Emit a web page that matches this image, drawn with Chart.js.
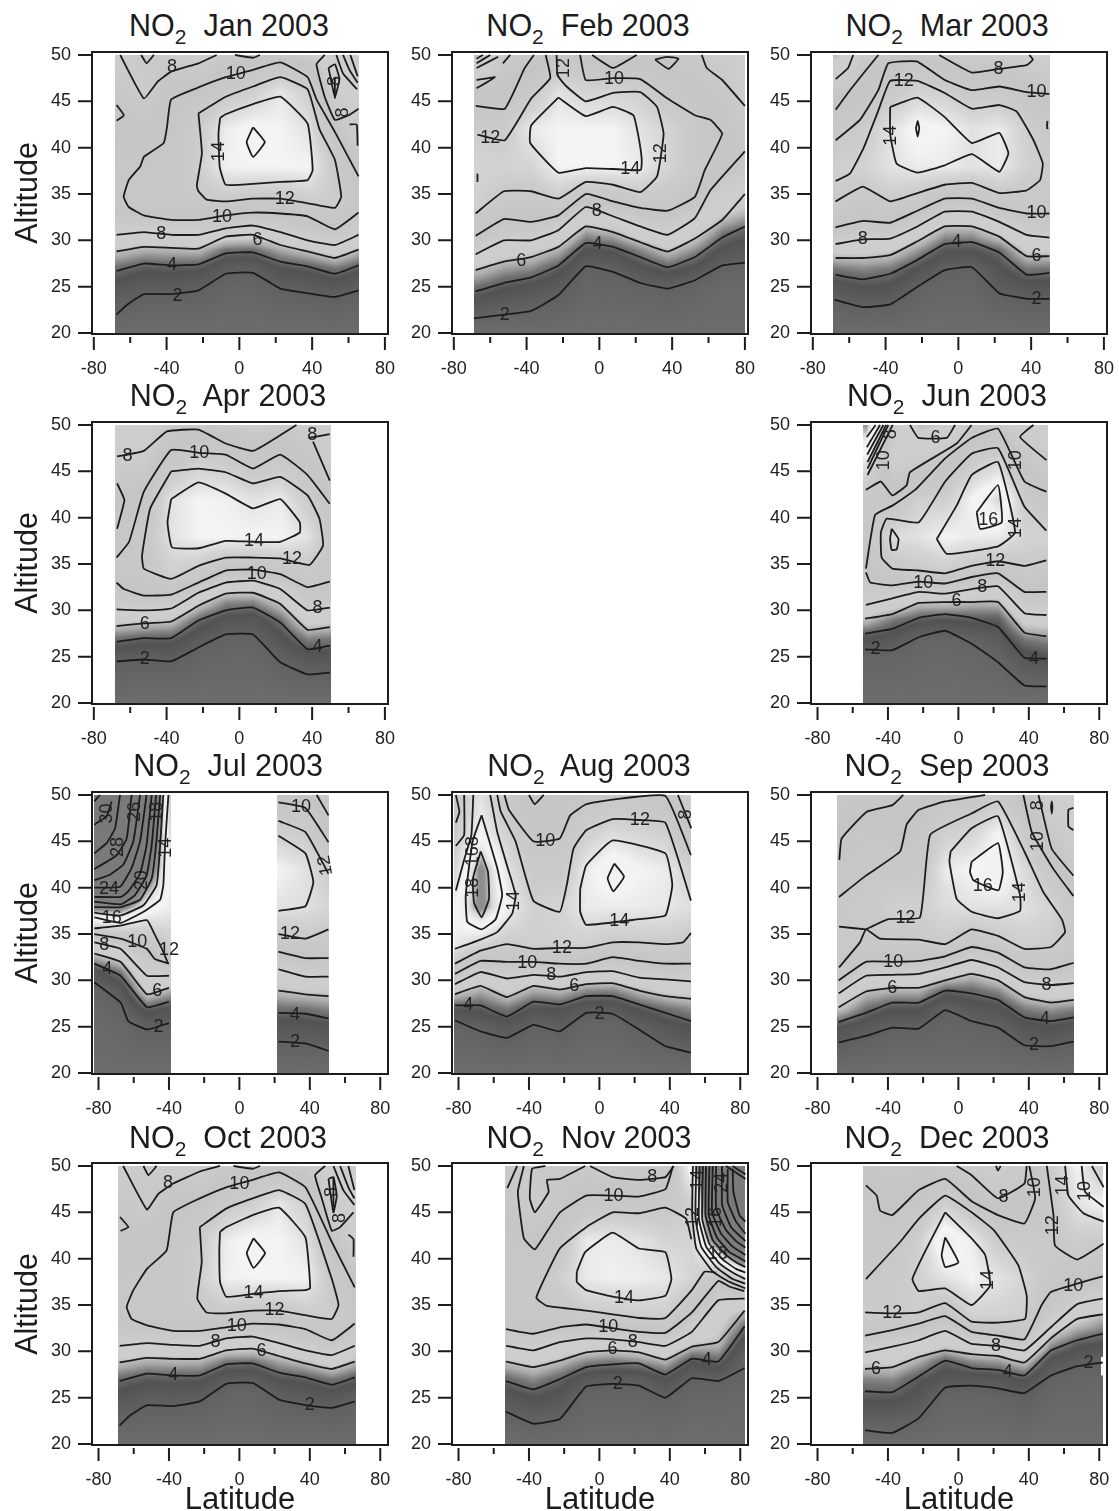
<!DOCTYPE html>
<html>
<head>
<meta charset="utf-8">
<title>NO2 2003</title>
<script src="https://cdn.jsdelivr.net/npm/chart.js@4/dist/chart.umd.js"></script>
<style>
html, body { margin: 0; padding: 0; background: #fff; overflow: hidden; }
body { position: relative; width: 1119px; height: 1511px; font-family: "Liberation Sans", Arial, sans-serif; }
canvas { position: absolute; }
.ptitle { position: absolute; width: 320px; text-align: center; font-size: 30.5px; line-height: 36px; color: #1c1c1c; white-space: pre; }
.ptitle sub { font-size: 21px; line-height: 0; vertical-align: -8px; }
</style>
</head>
<body>
<script>
// altitude rows of every heat grid, and the stops from NO2 value to grey level
var heatAlts = [20, 25, 27, 29, 31, 34, 38, 42, 46, 50];
var greyValues = [0, 2, 3.5, 4.5, 5.5, 6.5, 8, 10, 12, 13, 14, 15, 16, 17, 18, 20, 35];
var greyLevels = [112, 98, 82, 115, 170, 205, 206, 197, 203, 212, 226, 244, 240, 215, 145, 125, 120];

var xTicks = { major: [-80, -40, 0, 40, 80] };

// ---- Jan
var janCols = [-67.5, -52.5, -37.5, -22.5, -7.5, 7.5, 22.5, 37.5, 52.5, 65.5];
var janHeat = [
    [.5, 3, 4.3, 6.2, 8.3, 10.5, 10.5, 10, 9.5, 8],
    [.5, 2.5, 3.7, 5.7, 8.1, 11, 10.5, 10, 8.5, 9],
    [.5, 2.5, 3.8, 5.8, 8.4, 11, 10.7, 10.5, 10.2, 8.5],
    [.5, 2.3, 3.7, 5.9, 8.4, 11, 12.5, 12, 10.3, 8],
    [.5, 1.5, 2.5, 4.4, 8, 11.5, 14.8, 14.6, 11.7, 9],
    [.5, 1.5, 2.4, 4.3, 7.6, 11, 15, 15.5, 12.5, 9.5],
    [.5, 2.2, 3.5, 5.5, 8.2, 11, 15, 15, 14.3, 9.5],
    [.5, 2.5, 3.8, 6.2, 9, 12, 15, 14, 12.5, 9],
    [.5, 2.8, 4.5, 7.2, 9.8, 12.2, 11.6, 10, 8, 7],
    [.5, 2.3, 3.8, 6, 8.3, 10.5, 9.8, 8, 8, 7]
];
var janLines = [
    [-67.5,22, -62,23, -52.5,24.2, -37.5,24.2, -22.5,24.6, -7.5,26.4, 7.5,26.5, 22.5,24.8, 37.5,24.3, 52.5,23.9, 65.5,24.6],
    [-67.5,26.7, -52.5,27.5, -37.5,27.3, -22.5,27.4, -7.5,28.6, 7.5,28.7, 22.5,27.7, 37.5,27.2, 52.5,26.4, 65.5,27.3],
    [-67.5,28.8, -52.5,29.3, -37.5,29.2, -22.5,29.1, -7.5,30.4, 7.5,30.6, 22.5,29.5, 37.5,28.8, 52.5,28.1, 65.5,29],
    [-67.5,30.6, -52.5,30.9, -37.5,30.6, -22.5,30.6, -7.5,31.3, 7.5,31.6, 22.5,30.9, 37.5,30, 52.5,29.5, 65.5,30.6],
    [65.5,33, 52.5,31.2, 37.5,32.6, 22.5,32.9, 7.5,33, -7.5,32.7, -22.5,32.2, -37.5,32.2, -52.5,32.7, -60.8,33.6, -63.6,34.7, -60.8,36.5, -54.4,38, -52.5,39, -41.6,40.5, -39.8,42.2, -37.5,45.2, -22.5,46.5, -7.5,47.6, 7.5,48.4, 22.5,49.2, 37.5,47.6, 42.4,45.2, 52.5,41.7, 65.5,36.9],
    [-22.5,43.7, -7.5,45.5, 7.5,46.6, 22.5,47.6, 37.5,46.3, 44,42, 52.5,38.7, 56,34.7, 52.5,33.5, 37.5,34, 22.5,34.5, 7.5,34.5, -7.5,34.2, -18,34.4, -22.5,35.3, -23.4,35.9, -20.6,39.4, -22.5,43.7],
    [-10.6,43.2, -7.5,43.6, 7.5,44.7, 22.5,45.5, 37.5,42.6, 40.3,37.6, 37.5,36.5, 22.5,36.3, 7.5,36.1, -7.5,36, -10.8,37.9, -11.5,41.5, -10.6,43.2],
    [7.5,42.2, 14,40.6, 7.5,39, 4,40.6, 7.5,42.2],
    [-65.5,50, -52.5,45.3, -45,47.1, -37.5,48.2, -22.5,49.1, -12.5,50],
    [-54,50, -51,49.1, -47,50],
    [-2.4,50, 7.5,49.7, 11.3,50],
    [-67.5,44.6, -63.5,43.5, -67.5,42.9],
    [46.9,50, 42.4,49, 46.9,45.5, 52.5,43, 60,43.5, 65.5,44.2],
    [49,48.6, 52.5,49, 55,47.4, 52.5,45.5, 49,48.6],
    [52.5,47.6, 52.5,45.3],
    [53.3,50, 57,48, 64.7,46.3],
    [57,50, 60.5,48.4, 65,47],
    [61,50, 65,47.7],
    [60.6,42.5, 64.5,42.5, 65,40.2]
];
var janLabels = [["8",-37,48.7],["10",-2,47.9],["14",-11,39.6,-90],["12",25,34.5],["10",-9.5,32.5],["8",-43,30.7],["6",10,30],["4",-37,27.3],["2",-34,24],["8",52.5,47.2,-90],["8",57,43.8,-90]];

// ---- Feb
var febCols = [-67.5, -52.5, -37.5, -22.5, -7.5, 7.5, 22.5, 37.5, 52.5, 67.5, 80];
var febHeat = [
    [.5, 4.4, 6.2, 8.4, 10.5, 12.6, 13, 12, 10, 6],
    [.5, 3.6, 5.3, 7.2, 9, 11.2, 12.8, 12, 10, 9],
    [.5, 3.2, 4.9, 6.7, 9, 11.2, 13, 14.5, 11.5, 9],
    [.5, 2.6, 3.8, 5.7, 8, 11.5, 15, 15, 14, 10.5],
    [.5, 1.5, 2, 3.4, 5.4, 9.5, 15, 15, 13, 10],
    [.5, 1.6, 2.2, 3.7, 6, 10, 15, 15, 13, 9],
    [.5, 1.8, 3.2, 4.9, 7.5, 11, 14.5, 14, 12.5, 9.5],
    [.5, 2.1, 4, 6.2, 8.4, 11, 13, 13, 11, 9.5],
    [.5, 1.6, 3.2, 5, 7, 9.5, 11.5, 11.5, 10, 9],
    [.5, 1, 1.8, 3.2, 4.7, 7.6, 10.3, 10, 9.5, 8.5],
    [.5, 1, 1.7, 2.8, 4, 6.7, 9.5, 9, 8, 8]
];
var febLines = [
    [-69,21.6, -37.5,22.4, -22.5,24.1, -7.5,27.2, 7.5,26.6, 22.5,25.4, 37.5,24.8, 52.5,25.7, 67.5,27.3, 80,27.6],
    [-68,24.5, -52.5,25.4, -37.5,26, -22.5,27.3, -7.5,29.7, 7.5,29.3, 22.5,28.2, 37.5,27.1, 52.5,28.2, 67.5,30.3, 80,31.5],
    [-68,26.8, -52.5,27.7, -37.5,28.2, -22.5,29.3, -7.5,31.5, 7.5,30.9, 22.5,29.8, 37.5,28.8, 52.5,30.2, 67.5,32.2, 80,35],
    [-68,28.5, -52.5,30, -37.5,30, -22.5,31.1, -7.5,33.6, 7.5,32.6, 22.5,31.5, 37.5,30.6, 52.5,32.4, 61,35.4, 80,39.6],
    [-68,30.5, -52.5,32.3, -37.5,32, -22.5,32.7, -7.5,35, 7.5,34.2, 22.5,33.5, 37.5,33.2, 52.5,34.7, 58,37.6, 67.5,41.5, 61,43, 52.5,43.5, 37.5,45.3, 22.5,47.4, 7.5,47.5, -7.5,47.3, -10.6,50],
    [-68,32.9, -52.5,35.3, -37.5,35.3, -22.5,34.5, -7.5,36.3, 7.5,36, 22.5,35.2, 31.7,36.9, 35.3,41.5, 31.7,44.4, 22.5,46, 7.5,45.9, -7.5,45, -18,46.6, -23,47.8, -23.5,50],
    [-67,41.4, -52,40.8, -37.5,45.3, -27,47.5, -29.5,50],
    [-68,44.5, -52,44.2, -41,48.6, -36,50],
    [-22.5,45.4, -37.5,42.4, -38,40.5, -22.5,37.3, -7.5,37.8, 7.5,37.7, 22.7,37.6, 23.3,38.7, 21.5,41.2, 18.7,43.5, 7.5,44.4, -7.5,43.4, -22.5,45.4],
    [-4,50, 7.5,48.6, 20.5,50],
    [30.6,49.5, 37,49.8, 43.5,49.6, 38,48.5, 30.6,49.5],
    [56.3,50, 59,48.6, 67.5,47.3, 80,44.5],
    [-67.5,49.6, -64,50], [-67.5,49.1, -60,50], [-67.5,48.6, -55.6,49.8],
    [-53,49.1, -49,50, -53,49.1],
    [-67.5,47.3, -57.4,47.6, -67.5,46.4],
    [-67,37.2, -67,36.3]
];
var febLabels = [["2",-52,22],["6",-43,27.8],["4",-1,29.6],["8",-1.5,33.2],["14",17,37.7],["12",-60,41],["12",34,39.4,-90],["10",8,47.4],["12",-19.5,48.6,-90]];

// ---- Mar
var marCols = [-67.5, -52.5, -37.5, -22.5, -7.5, 7.5, 22.5, 37.5, 50];
var marHeat = [
    [.5, 3, 4.6, 6.8, 9.6, 11.8, 12.5, 11, 9.5, 6],
    [.5, 3.5, 4.9, 6.9, 9, 11, 12.8, 12, 10, 9],
    [.5, 3.3, 4.6, 6.6, 8.9, 11.8, 14, 14, 11.5, 9.5],
    [.5, 2, 3.4, 5.2, 7.5, 11, 14.5, 15.5, 13, 10],
    [.5, 1.5, 2.2, 3.6, 5.5, 9.5, 14.5, 15, 12.5, 9],
    [.5, 1.5, 2, 3.6, 5.5, 9.5, 14, 14, 11.5, 8.5],
    [.5, 2.5, 3.3, 4.3, 7, 10.7, 14.5, 14.5, 11.5, 8.5],
    [.5, 3, 4.6, 6.6, 8.6, 11, 12.7, 12.5, 10.5, 8],
    [.5, 3, 4.5, 6.6, 8.9, 11, 12, 11, 9.5, 8]
];
var marLines = [
    [-68,23.6, -52.5,22.8, -37.5,23.1, -22.5,25, -7.5,26.8, 7.5,27.1, 22.5,24.3, 37.5,23.7, 50,23.7],
    [-67.5,26.3, -52.5,25.8, -37.5,26.4, -22.5,27.9, -7.5,29.6, 7.5,29.8, 22.5,28.7, 37.5,26.3, 50,26.5],
    [-67.5,28.1, -52.5,28.1, -37.5,28.4, -22.5,29.9, -7.5,31.5, 7.5,31.5, 22.5,30.4, 37.5,28.3, 50,28.3],
    [-67.5,29.6, -52.5,30.1, -37.5,30.2, -22.5,31.5, -7.5,33.1, 7.5,33.1, 22.5,32, 37.5,30.6, 50,30.3],
    [-67.5,31.4, -52.5,32.1, -37.5,31.9, -22.5,33.2, -7.5,34.5, 7.5,34.5, 22.5,33.5, 37.5,32.9, 50,32.9],
    [-67.5,34.2, -52.5,35.8, -37.5,34.2, -22.5,35.1, -7.5,36, 7.5,36.2, 22.5,35.1, 37.5,35.4, 44.9,36.5, 46.4,38.3, 41.3,40.8, 32.1,43.9, 22.5,44.6, 7.5,44.2, -7.5,45.9, -22.5,47.2, -37.5,47.2, -44,44, -52,40, -59.6,37.2, -67.5,36.4],
    [-37.5,44.4, -22.5,45.4, -7.5,43.3, 7.5,40.5, 22.5,41.6, 27.5,39.4, 22.5,37.4, 7.5,39.3, -7.5,38.1, -22.5,37.3, -34,38.3, -37.5,41.5, -37.5,44.4],
    [-23.3,42.1, -22.4,42.9, -21.5,42.1, -22.4,41.2, -23.3,42.1],
    [-10.6,50, 7.5,48.1, 22.5,48.5, 37.5,48.9, 41,49.5, 39,50],
    [49,42.9, 48.7,42.4, 49,42],
    [-67.4,47.4, -60.6,48.6, -57.8,50],
    [-67.4,44.1, -59.6,46.2, -44,50],
    [-67.4,40.8, -54.1,43, -44,46.2, -38.5,49.1, -22.9,49.3, -7.5,47.3, 7.5,46.2, 22.5,46.6, 37.5,46, 50,45.8]
];
var marLabels = [["12",-30,47.2],["8",22,48.5],["10",43,46],["14",-37,41.3,-90],["10",43,33],["8",-52.5,30.1],["4",-1,29.8],["6",43,28.3],["2",43,23.7]];

// ---- Apr
var aprCols = [-67.5, -52.5, -37.5, -22.5, -7.5, 7.5, 22.5, 37.5, 50];
var aprHeat = [
    [.5, 2.5, 4.4, 6.8, 8.9, 10.7, 10.5, 10, 8.5, 7.5],
    [.5, 2.3, 4, 6.5, 9.3, 11, 11, 10.5, 8.7, 7.8],
    [.5, 2.4, 4, 6.2, 9, 12.5, 14, 14, 11, 9],
    [.5, 1.6, 2.7, 4.2, 6.7, 11.5, 15, 15, 12.5, 9],
    [.5, 1.3, 1.9, 3.1, 5, 9.5, 15, 14.8, 12, 9],
    [.5, 1.3, 1.9, 2.9, 4.9, 9.5, 15, 14, 10.8, 8.5],
    [.5, 2.2, 3.2, 4.4, 6.4, 10.3, 15, 14.5, 11.5, 9],
    [.5, 3, 4.8, 7, 9, 11.3, 14, 12, 10, 8.3],
    [.5, 3, 4.6, 6.8, 8.8, 10.7, 11, 10, 8.5, 7.8]
];
var aprLines = [
    [-67.5,24.5, -52.5,24.7, -37.5,24.5, -22.5,26, -7.5,27.4, 7.5,27.4, 22.5,24.4, 37.5,23.1, 49.7,23.3],
    [-67.5,26.6, -52.5,27, -37.5,27, -22.5,28.9, -7.5,30, 7.5,30.3, 22.5,28.7, 37.5,25.8, 49.7,26.2],
    [-67.5,28.3, -52.5,28.6, -37.5,28.8, -22.5,30.5, -7.5,31.8, 7.5,31.9, 22.5,30.7, 37.5,27.9, 49.7,28.2],
    [-67.5,30.1, -52.5,30, -37.5,30.2, -22.5,31.9, -7.5,33, 7.5,33.2, 22.5,32.3, 37.5,30, 49.7,30.3],
    [-67.5,33, -63.5,32.3, -52.5,31.6, -37.5,31.7, -22.5,33, -7.5,34.3, 7.5,34.4, 22.5,33.9, 37.5,32.5, 49.7,33.1],
    [-67.5,35.7, -60.6,37.4, -52.5,42.8, -37.5,47.3, -22.5,47, -7.5,46.8, 7.5,45.3, 22.5,46.8, 37.5,44.6, 49.7,41.5],
    [-37.5,45, -22.5,45.3, -7.5,44.9, 7.5,43.7, 22.5,44.4, 37.5,42.4, 44,39.9, 46,37, 38.5,34.9, 22.5,35.6, 7.5,35.7, -7.5,35.7, -22.5,34.8, -37.5,33.4, -52.5,34.5, -53.5,35.9, -49,41, -37.5,45],
    [-37.5,42, -22.5,43.8, -7.5,42.6, 7.5,41, 22.5,42, 33.2,39.5, 33.2,38.4, 22.5,37.4, 7.5,37.4, -7.5,37.5, -22.5,36.7, -37,36.8, -39.5,39.5, -37.5,42],
    [-67.2,46.6, -52.5,47.2, -39.8,49.3, -22.5,49.5, -7.5,48, 7.5,47.2, 22.5,48.9, 31.4,50],
    [38,48.6, 49.7,49],
    [40.5,48.2, 49.7,44],
    [-67.2,43.7, -63.2,41.9, -67.2,38.8]
];
var aprLabels = [["8",-61.5,46.7],["10",-22,47],["8",40,48.9],["14",8,37.5],["12",29,35.5],["10",9.5,33.9],["8",43,30.2],["6",-52,28.5],["4",43,26],["2",-52,24.7]];

// ---- Jun
var junCols = [-52.5, -37.5, -22.5, -7.5, 7.5, 22.5, 37.5, 50];
var junHeat = [
    [.5, 1.6, 3.4, 6, 8.2, 9.9, 10.5, 11, 14, 18],
    [.5, 1.6, 3, 4.6, 7.6, 11, 13.5, 10.5, 8, 9],
    [.5, 1.2, 1.8, 3.8, 6.3, 11.5, 14, 12.5, 9, 6],
    [.5, 1, 1.7, 3.5, 6.4, 12, 15, 12.5, 9.5, 6.5],
    [.5, 1.3, 2, 3.8, 6, 11, 14.5, 15, 12, 9],
    [.5, 1.8, 2.6, 3.8, 6, 10, 14.5, 17, 13, 9],
    [.5, 3, 4.7, 7, 9.2, 11.4, 13, 12, 9.5, 8],
    [.5, 3.5, 5, 7.2, 9, 11, 12.8, 10.5, 8.7, 8]
];
var junLines = [
    [-53,25.8, -37.5,25.7, -22.5,27.1, -7.5,27.8, 7.5,26.4, 22.5,24.4, 37.5,21.9, 50,21.8],
    [-53,27.5, -37.5,28, -22.5,29.2, -7.5,29.6, 7.5,29.2, 22.5,28.2, 37.5,24.9, 50,24.8],
    [-53,29.1, -37.5,29.6, -22.5,30.8, -7.5,30.9, 7.5,30.9, 22.5,30.9, 37.5,27.6, 50,27.2],
    [-52.5,30.6, -37.5,31.3, -22.5,32, -7.5,31.8, 7.5,32.3, 22.5,32.6, 37.5,29.7, 50,29.5],
    [-52.5,34.1, -50,33, -37.5,32.7, -22.5,33.1, -7.5,32.9, 7.5,33.6, 22.5,34, 37.5,32, 50,32],
    [50,35.4, 37.5,34.8, 22.5,35.3, 7.5,34.8, -7.5,34, -22.5,34.3, -37.5,34.5, -43.6,35.7, -44,38.4, -40.7,39.9, -22.5,39.5, -7.5,43.9, 7.5,46.9, 22.5,47.5, 37.5,41.2, 50,38.6],
    [-52.5,34.5, -47.3,40.3, -37.5,41.3, -24.6,43, -7.5,46.4, 7.5,48.6, 22.5,49.6, 37.5,43.9, 50,42.8],
    [7.5,50, -1,48, -27.5,44.9, -29.4,43.5, -37.5,42.4, -44,43.9, -52.5,43],
    [-12.3,37.7, -6.6,36.1, 22.5,36.9, 32.2,38.4, 22.5,46, 7.5,44.6, -1,41.3, -12.3,37.7],
    [10.4,40.6, 22.5,43.5, 24.6,39.5, 12.3,38.8, 10.4,40.6],
    [-37.9,38.8, -34,37.7, -35,36.6, -37.9,36.5, -38.8,37.7, -37.9,38.8],
    [-27.5,50, -22.7,48.6, -6.6,48.6, -1.9,50],
    [42.6,50, 35,48.7, 50,46.2],
    [-52,48.7, -47,50], [-52,47.6, -44.5,50], [-51.8,46.8, -42.6,50], [-51.6,46, -41,50], [-51.6,45.3, -39.8,50], [-51.6,44.6, -37.3,50]
];
var junLabels = [["6",-13,48.6],["8",-38,49,-90],["10",-42.5,46.2,-90],["10",33,46.2,-90],["16",17,39.7],["14",32.5,38.9,-90],["12",21,35.3],["10",-20,33],["8",13.5,32.5],["6",-1,31],["2",-47,25.8],["4",43,24.8]];

// ---- Jul, two separate blocks of data
var julColsA = [-82.5, -67.5, -52.5, -38.8];
var julHeatA = [
    [.5, .9, 1.2, 1.6, 3.2, 7.8, 19, 26, 31, 33],
    [.5, 1.2, 1.7, 2.8, 4.7, 9, 19, 27, 30, 31],
    [.5, 2.1, 4, 6.8, 8.3, 10.4, 16, 20, 24, 26],
    [.5, 1.9, 3.4, 5.7, 8.8, 12.5, 14.5, 14.5, 13, 12]
];
var julColsB = [21.6, 37.5, 51.1];
var julHeatB = [
    [.5, 2.9, 4.4, 6.1, 7.8, 11, 14, 15, 12.5, 10],
    [.5, 3, 4.5, 6.5, 8.6, 11.5, 13.8, 14, 12, 10],
    [.5, 3.3, 4.9, 6.6, 8.7, 11.2, 13, 12, 10, 9]
];
var julLines = [
    [-82.4,29.8, -67.4,27.6, -63.1,25.6, -52.5,24.7, -40,25.4],
    [-82.4,31.8, -67.5,30.5, -52.5,27.1, -40,27.7],
    [-82.4,32.9, -67.5,32, -52.5,28.5, -40,29.2],
    [-82.4,34.1, -67.5,33.4, -52.5,30.5, -40,30.5],
    [-82.4,35, -67.5,34.5, -52.5,33.4, -48,32.3, -40,31.8],
    [-82.4,35.6, -67.5,35.9, -52.5,36.5, -48,34.9, -43,33, -40.5,31.8],
    [-40.3,50, -42.2,44.6, -43.2,40.3, -45,38.7, -54.5,37.4, -67.4,36.2, -82.4,36.8],
    [-43.2,50, -45,44.6, -47,40.3, -54.5,38.1, -67.4,37, -82.4,37.3],
    [-45,50, -47.3,44.6, -49.8,41, -56.4,38.7, -67.4,37.9, -82.4,37.9],
    [-47.3,50, -49.8,44.6, -52.7,41.3, -59.3,39.2, -67.4,38.2, -82.4,38.5],
    [-49.8,50, -52.7,44.6, -56.4,41.5, -63.1,39.6, -67.4,39, -82.4,39],
    [-52.7,50, -56.4,45, -61.2,42.1, -67.8,40.1, -82.4,40],
    [-56.4,50, -60.2,45, -65.9,42.5, -73.5,41.4, -82.4,40.8],
    [-61.2,50, -64,45.3, -69.7,43.5, -82.4,42],
    [-67.8,50, -70.6,46.4, -75.4,44.8, -82.4,43.7],
    [-72.5,49.3, -75.4,47.7, -82.4,46.8],
    [-79.2,50, -82.4,49.3],
    [22.2,23.4, 37.5,23.2, 50.6,22.4],
    [22.2,26.5, 37.5,26.4, 50.6,25.9],
    [22.2,28.9, 37.5,28.5, 50.6,28.3],
    [22.2,31.2, 37.5,30.4, 50.6,30.4],
    [22.2,33.1, 37.5,32.4, 50.6,32.4],
    [22.2,35, 37.5,34.5, 50.6,35.5],
    [22.2,37.5, 37.5,38, 42,40.6, 37.5,43.7, 22.2,45.6],
    [22.2,47.2, 37.5,46, 50.6,41.5],
    [22.2,49.2, 37.5,48.6, 50.6,44.9],
    [43.9,50, 50.6,47.8]
];
var julLabels = [["24",-74,39.8],["16",-72.5,36.7],["20",-55.5,40.8,-90],["28",-68.8,44.4,-90],["26",-59,48.2,-90],["30",-75,48,-90],["18",-46.8,48.2,-90],["14",-41.7,44.3,-90],["10",35,48.7],["12",49,42.4,-100],["12",28.8,35],["4",31.6,26.3],["2",31.6,23.3],["8",-76.7,33.8],["10",-58,34.1],["12",-40,33.3],["6",-46.6,28.9],["4",-75,31.2],["2",-46,25]];

// ---- Aug
var augCols = [-82.5, -67.5, -52.5, -37.5, -22.5, -7.5, 7.5, 22.5, 37.5, 52];
var augHeat = [
    [.5, 1.8, 3.7, 6.8, 10.5, 14.5, 15, 13, 12, 11],
    [.5, 2.1, 3.8, 5.6, 8, 13, 18.5, 18.5, 15, 14],
    [.5, 2.9, 4.6, 6.8, 8.8, 12, 15, 14, 12.5, 11],
    [.5, 1.9, 3.4, 5.6, 8.5, 12.5, 12.5, 11.5, 10.5, 9.5],
    [.5, 2.3, 3.6, 6, 8.5, 12.5, 13, 11.5, 10.5, 9.7],
    [.5, 1.5, 2.7, 5, 8.2, 12.5, 14.5, 14.5, 12.5, 10.5],
    [.5, 1.5, 2.7, 4.9, 8, 11.8, 14.5, 16, 13.5, 10.7],
    [.5, 2.2, 3.7, 6, 8.8, 11.9, 14.5, 15, 13, 11],
    [.5, 3, 4.4, 6.8, 9.2, 12, 14.3, 14.5, 12.5, 10],
    [.5, 3.5, 5, 7, 9.1, 11.5, 13.8, 12.5, 10, 8]
];
var augLines = [
    [-82,25.7, -67.5,24.5, -52.5,23.8, -37.5,25.2, -22.5,24.5, -7.5,26.5, 7.5,26.4, 22.5,24.7, 37.5,22.9, 52,22.2],
    [-82,27.3, -67.5,27.3, -52.5,26.1, -37.5,27.7, -22.5,27.4, -7.5,28.3, 7.5,28.3, 22.5,27.4, 37.5,26.5, 52,25.6],
    [-82,28.5, -67.5,29.4, -52.5,28.2, -37.5,29.4, -22.5,29, -7.5,29.6, 7.5,29.7, 22.5,28.9, 37.5,28.3, 52,28],
    [-82,29.6, -67.5,30.9, -52.5,30.2, -37.5,30.6, -22.5,30.4, -7.5,30.9, 7.5,31, 22.5,30.3, 37.5,30.1, 52,29.9],
    [-82,30.7, -67.5,32.1, -52.5,32, -37.5,32, -22.5,31.8, -7.5,31.8, 7.5,32.5, 22.5,32.1, 37.5,31.8, 52,31.8],
    [-82,31.8, -67.5,33.2, -52.5,33.9, -37.5,33.4, -22.5,33.5, -7.5,33.5, 7.5,34.1, 22.5,34.1, 37.5,33.9, 47.5,34.1, 52,35.1],
    [-82,33.4, -67.5,34.4, -58,35.2, -49.5,37.2, -47.6,39.2, -52,42.1, -58,46, -62,50],
    [-71.6,50, -72.7,45.7, -76.8,43, -81.5,39.7],
    [-76.8,50, -76.8,45.7, -81.5,44.5],
    [-81.5,50, -79.5,48.2, -81.5,47],
    [-66.9,47.8, -72,45, -75.9,39.2, -75,36.3, -66.9,35.5, -58.9,36.6, -55.2,39.2, -58,42.1, -66.9,47.8],
    [-67.4,43.9, -71.8,41, -71.2,38.4, -66.9,36.8, -62.7,38.8, -63.3,41.7, -67.4,43.9],
    [-53.9,50, -51.4,48.4, -37.5,45, -22.5,45.3, -16.6,47.8, -7.5,49, 7.5,49.5, 37.5,49.9, 52,43.5],
    [-58,50, -56,48.2, -47.6,45, -37.5,38.6, -22.5,37.4, -18.5,40.3, -14.7,44.2, -7.5,46.2, 7.5,47.4, 22.5,47.3, 37.5,47, 52,38.6],
    [44.6,50, 52.2,46.4],
    [-10.9,39.9, -7.5,42.4, 7.5,45.1, 37.5,43.7, 41.4,40.3, 37.5,37, 22.4,36.6, -7.5,36, -10.9,37.4, -10.9,39.9],
    [8.5,42.6, 14,41.2, 7.9,39.6, 4.7,41, 8.5,42.6],
    [-40,50, -36.7,49, -31.6,50]
];
var augLabels = [["8",-72,45,-90],["16",-72,43.4,-90],["18",-71.6,40,-90],["14",-48.6,38.6,-90],["10",-30.7,45],["12",23,47.3],["8",49,47.9,-90],["14",11.3,36.4],["12",-21.3,33.5],["10",-41,31.9],["8",-27.3,30.6],["6",-14.3,29.4],["4",-74.4,27.3],["2",0,26.4]];

// ---- Sep
var sepCols = [-67.5, -52.5, -37.5, -22.5, -7.5, 7.5, 22.5, 37.5, 52.5, 65.5];
var sepHeat = [
    [.5, 3.5, 6.2, 8.4, 11, 11.5, 11, 10.5, 10, 9.5],
    [.5, 2.8, 4.4, 6.2, 8.6, 11, 11.5, 11, 10.5, 9.5],
    [.5, 2.1, 3.6, 5.8, 8.5, 11.5, 12.5, 11, 10, 9.5],
    [.5, 2.1, 3.6, 5.8, 8.4, 11.5, 12.5, 11, 10.5, 9.7],
    [.5, 1.6, 2.1, 4.1, 7.5, 12, 13.5, 14.5, 12.5, 10.5],
    [.5, 1.8, 2.9, 4.3, 6.3, 10.5, 14, 15, 13, 10.5],
    [.5, 2.1, 3.2, 5, 7.5, 11.5, 14, 16, 15, 11.5],
    [.5, 3, 4.7, 6.9, 9.5, 12.5, 13.8, 13.5, 11.5, 9.5],
    [.5, 3.5, 5.2, 7.5, 10, 12.2, 13, 11, 9, 8],
    [.5, 3, 4.8, 7.3, 9.3, 11, 11, 9, 8, 8]
];
var sepLines = [
    [-68,23.3, -52.5,24, -37.5,24.9, -22.5,24.8, -7.5,26.8, 7.5,25.6, 22.5,24.9, 37.5,23, 52.5,22.9, 65.5,23.4],
    [-68,25.5, -52.5,26.5, -37.5,27.6, -22.5,27.6, -7.5,28.9, 7.5,28.6, 22.5,27.9, 37.5,26, 52.5,25.6, 65.5,26],
    [-68,27.1, -52.5,28.8, -37.5,29.2, -22.5,29.2, -7.5,30, 7.5,30.7, 22.5,30, 37.5,28.2, 52.5,27.6, 65.5,27.9],
    [-68,28.6, -52.5,30.5, -37.5,30.6, -22.5,30.7, -7.5,31.4, 7.5,32.2, 22.5,31.4, 37.5,29.8, 52.5,29.5, 65.5,29.7],
    [-68,30, -52.5,32, -37.5,32, -22.5,32.1, -7.5,32.6, 7.5,33.6, 22.5,33, 37.5,31.4, 52.5,31.2, 65.5,31.9],
    [-52.5,35.5, -39.8,36.6, -21.8,36.8, -16,45.7, 7.5,48, 22.5,49.3, 37.5,43.9, 48.3,39.5, 58.7,36.6, 60.6,35.2, 52.5,33.6, 37.5,33.4, 22.5,34.8, 7.5,35.5, -7.5,33.9, -22.5,34.4, -44.5,34.5, -52.5,35.5, -55.9,34.1, -67.8,31.4],
    [-67.8,35.8, -52.5,35.5],
    [-31.3,50, -37.5,48.9, -52,48.2, -66.3,45.3, -67.6,43],
    [15.2,50, -7.5,49.3, -22.5,48.4, -29.4,46.8, -33.1,43.9, -52.5,41.3, -67.8,39],
    [-4.4,43.9, 7.5,46.4, 22.5,47.7, 35,39.2, 35,37.5, 22.5,36.7, 7.5,37.4, -1,38.8, -5.1,42.8, -4.4,43.9],
    [7.5,42.8, 22.5,44.8, 25.2,41.7, 22.7,39.7, 8.5,40.8, 6.6,41.7, 7.5,42.8],
    [36.9,50, 41.7,46, 54,42, 65.3,39.1],
    [45.5,50, 53,44.2, 65.3,41.3],
    [52.6,48.7, 53,49.3, 53.4,48.7, 53,48, 52.6,48.7],
    [65.3,48.6, 62.5,48.4, 62.5,46.6, 65.3,46.2]
];
var sepLabels = [["8",45.5,48.9,-90],["10",45.5,45,-90],["14",35,39.5,-90],["16",13.8,40.2],["12",-30,36.7],["10",-37,32],["8",50,29.5],["6",-37.5,29.2],["4",49,25.8],["2",43,23]];

// ---- Oct
var octCols = [-67.5, -52.5, -37.5, -22.5, -7.5, 7.5, 22.5, 37.5, 52.5, 65.5];
var octHeat = [
    [.5, 3, 4.2, 6.2, 8.4, 10.7, 10.5, 10, 9.5, 8],
    [.5, 2.5, 3.7, 5.7, 8.1, 11, 10.7, 10, 8.7, 9],
    [.5, 2.5, 3.8, 5.8, 8.4, 11, 10.8, 10.5, 10.2, 8.5],
    [.5, 2.3, 3.7, 5.8, 8.4, 11, 12.5, 12, 10.3, 8],
    [.5, 1.5, 2.5, 4.6, 7.8, 11.5, 14.8, 14.6, 11.7, 9],
    [.5, 1.5, 2.4, 4.5, 7.6, 11, 15, 15.5, 12.5, 9.5],
    [.5, 2.2, 3.5, 5.5, 8.2, 11, 15, 15, 14.3, 9.5],
    [.5, 2.5, 3.8, 6.2, 9, 12, 15, 14, 12.5, 9],
    [.5, 2.8, 4.5, 7.2, 9.8, 12.2, 11.6, 10, 8, 7],
    [.5, 2.3, 3.8, 6, 8.3, 10.5, 9.8, 8, 8, 7]
];
var octLines = [
    [-68,22, -62,23.1, -52.5,24.2, -37.5,24.1, -22.5,24.6, -7.5,26.5, 7.5,26.6, 22.5,24.8, 37.5,24.2, 52.5,23.9, 65.5,24.6],
    [-68,26.8, -52.5,27.6, -37.5,27.4, -22.5,27.4, -7.5,28.6, 7.5,28.7, 22.5,27.7, 37.5,27.2, 52.5,26.4, 65.5,27.2],
    [-68,28.8, -52.5,29.3, -37.5,29.2, -22.5,29.2, -7.5,30.1, 7.5,30.3, 22.5,29.5, 37.5,28.7, 52.5,28.1, 65.5,28.9],
    [-68,30.6, -52.5,30.9, -37.5,30.7, -22.5,30.6, -7.5,31.4, 7.5,31.6, 22.5,30.9, 37.5,30.1, 52.5,29.6, 65.5,30.6],
    [65.5,33, 52.5,31.2, 37.5,32.4, 22.5,32.9, 7.5,33, -7.5,32.6, -22.5,32.2, -37.5,32.2, -52.5,32.8, -61.2,33.5, -64,34.8, -60.2,36.6, -52.5,38.9, -41.3,40.9, -37.5,45, -22.5,46.5, -7.5,47.7, 7.5,48.5, 22.5,49.3, 37.5,47.7, 52.5,41.8, 65.5,36.9],
    [-22.5,43.4, -7.5,45.4, 7.5,46.5, 22.5,47.4, 37.5,45.9, 52.5,37.8, 56.3,35, 52.5,33.5, 37.5,33.9, 22.5,34.4, 7.5,34.4, -7.5,34.1, -18.6,34.2, -23.9,35.7, -21.4,39.6, -22.5,43.4],
    [-11,42.9, -7.5,43.4, 7.5,44.7, 22.5,45.5, 37.5,42.3, 40.2,36.8, 37.5,36.6, 22.5,36.5, 7.5,36.2, -7.5,35.9, -11,37.5, -11.4,41.1, -11,42.9],
    [8,42.2, 14.6,40.6, 8,39, 4.2,40.6, 8,42.2],
    [-66,50, -52.5,45.3, -46,47, -37.5,48.1, -22.5,49.4, -11,50],
    [-54.5,50, -51.7,49, -47,50],
    [-3.4,50, 7.5,49.7, 11.7,50],
    [-67.8,44.5, -63,43.4, -67.5,43],
    [48.7,50, 43,49, 46.8,46.5, 52.5,43, 57.2,43.4, 64.8,45],
    [50.6,48.6, 53.4,48.8, 55.3,46.8, 53.4,45, 50.6,48.6],
    [53.4,48.8, 53.4,45.5],
    [53.4,50, 59,47.4, 65.3,45.8],
    [57.2,50, 61.9,47.7, 65.3,46.5],
    [61.9,50, 65.3,47.4],
    [61.9,42.6, 64.8,42.1, 64.8,40.2]
];
var octLabels = [["8",-40.5,48.2],["10",0,48],["14",8,36.3],["12",20,34.5],["10",-1.5,32.7],["8",-13.5,31],["6",12.5,30],["4",-37.5,27.4],["2",40,24.2],["8",52.5,47.2,-90],["8",57,44.4,-90]];

// ---- Nov
var novCols = [-52.5, -37.5, -22.5, -7.5, 7.5, 22.5, 37.5, 52.5, 67.5, 82];
var novHeat = [
    [.5, 2.9, 4.2, 6.2, 8.6, 11, 11, 10.5, 9.5, 9],
    [.5, 3.5, 4.9, 6.8, 8.9, 11, 11, 10, 8.5, 9],
    [.5, 3, 4, 6, 8, 11, 12.5, 11, 9.5, 9],
    [.5, 1.6, 2.7, 4.9, 7.6, 11.8, 14.5, 14.5, 10.8, 9],
    [.5, 1.5, 2.5, 4.6, 7.5, 12, 14.8, 14.5, 11, 8.5],
    [.5, 1.6, 2.4, 5, 8, 12.3, 14.7, 14, 11, 9],
    [.5, 2, 3.4, 5.8, 8.5, 12.4, 14.3, 13, 11, 9],
    [.5, 1.2, 2, 3.6, 6.5, 9.8, 13, 13, 12.5, 16],
    [.5, 1.3, 2.1, 4.2, 6, 7.3, 10.5, 20, 26, 28],
    [.5, 1, 1.4, 1.8, 3, 5.5, 13, 28, 30, 26]
];
var novLines = [
    [-53,23.5, -37.5,22.2, -22.5,22.7, -7.5,26.2, 7.5,26.5, 22.5,26.3, 37.5,25, 52.5,27.1, 67.5,26.8, 82.5,28.2],
    [-53,26.8, -37.5,25.9, -22.5,27, -7.5,28.3, 7.5,28.6, 22.5,28.7, 37.5,27.5, 52.5,29.2, 67.5,28.9, 82.5,32.7],
    [-53,28.9, -37.5,28.3, -22.5,29, -7.5,29.9, 7.5,30.1, 22.5,29.9, 37.5,29.1, 52.5,30.5, 67.5,31, 82.5,34.4],
    [-53,30.6, -37.5,30.1, -22.5,31, -7.5,31.4, 7.5,31.3, 22.5,31, 37.5,30.6, 52.5,32.1, 67.5,35.5, 82.5,35.7],
    [-53,32.4, -37.5,31.9, -22.5,32.6, -7.5,32.9, 7.5,32.5, 22.5,32.1, 37.5,32, 52.5,34.2, 67.5,37.6, 73.8,37, 82.3,36.5],
    [52.2,42.1, 49.3,44.3, 37.5,45.5, 22.5,44.9, 7.5,45, -7.5,43.4, -22.5,41.1, -35.8,35.8, -29.8,34.9, -7.5,34.4, 7.5,34, 22.5,33.6, 37.5,33.6, 52.5,36.6, 59.7,38.6, 66.3,38.5],
    [-12.8,38.6, -8.1,40.7, 7.5,42.8, 22.4,41.1, 37.5,40.7, 40.9,37.8, 37.5,36, 22.4,35.5, 7.5,35.9, -7.5,36.6, -12.8,37.5, -12.8,38.6],
    [-52.3,47.6, -46.7,50],
    [-42.9,50, -46.3,47.2, -42.9,42.2, -36.7,41, -29.8,42.9, -22.4,45, -7.5,46.8, 7.5,46.8, 22.4,46.7, 37.5,47.5, 41.8,50],
    [-30.7,50, -38.2,49.7, -39.5,46.5, -36.7,45, -28.8,47.2, -29.8,48.5, -22.4,48.6, -8,50],
    [-5.3,50, 7.5,48.8, 22.4,48.5, 37.5,48.8, 42.2,50],
    [53.1,50, 52.7,44.7, 55,41.1, 64.4,38.6, 73.8,37.5, 82.9,36.8],
    [55,50, 54.6,44.3, 57.8,41.3, 66.3,39.1, 75.7,37.8, 82.9,37.3],
    [56.9,50, 56.5,44.3, 60.6,41.3, 68.2,39.5, 76.6,38.4, 82.9,37.8],
    [58.8,50, 58.4,44.3, 62.5,41.6, 70.1,39.9, 77.6,38.9, 82.9,38.5],
    [60.6,50, 60.3,44.7, 64.4,42, 71.9,40.4, 78.5,39.5, 82.9,39.1],
    [62.5,50, 62.1,44.7, 66.7,42.3, 73.8,40.7, 79.5,40.1, 82.9,39.7],
    [64.4,50, 64,45, 69.1,42.7, 75.7,41.3, 82.9,40.4],
    [66.3,50, 66.3,45.4, 71.9,43.1, 77.6,41.9, 82.9,41.2],
    [69.7,50, 69.7,45.8, 74.8,43.4, 82.9,41.9],
    [72.9,49.7, 72.9,46.1, 77.6,44, 82.9,42.7],
    [75.7,49.7, 76.1,47.2, 79.5,44.7, 82.9,44],
    [71.9,50, 83,48.6],
    [75.7,50, 83,49.1]
];
var novLabels = [["8",30,48.8],["10",8,46.8],["14",14,35.7],["10",5,32.6],["8",19,31],["6",7.5,30.2],["4",61,29.1],["2",10.5,26.5],["18",67.2,40.5],["12",53,44.5,-90],["14",56,48.5,-90],["16",66,44.5,-90],["24",69.5,48.2,-90]];

// ---- Dec
var decCols = [-52.5, -37.5, -22.5, -7.5, 7.5, 22.5, 37.5, 52.5, 67.5, 82];
var decHeat = [
    [.5, 3.7, 4.8, 6.6, 9, 12.2, 11, 11, 10.5, 9.5],
    [.5, 3.7, 4.9, 6.8, 8.5, 12, 11.5, 10.8, 10, 9.5],
    [.5, 3, 3.7, 5.6, 7.9, 12, 12.8, 12.5, 10.5, 9.5],
    [.5, 1.6, 2.9, 4, 7, 10.3, 14, 16.5, 12.5, 9],
    [.5, 1.6, 2.8, 5, 8.3, 12.7, 15, 14.5, 10.5, 8.5],
    [.5, 1.7, 3, 5.3, 8.5, 12.8, 14, 12, 9.5, 8.5],
    [.5, 2.2, 3.6, 6.3, 9.7, 12.5, 13, 11.5, 10, 9],
    [.5, 1.2, 1.9, 3.1, 5.4, 8.8, 11, 11.3, 11.5, 12],
    [.5, 1.1, 1.5, 2.4, 3.9, 7.3, 10.3, 12.2, 14, 15],
    [.5, 1, 1.3, 2.1, 3.6, 6, 9.9, 11.8, 15, 12]
];
var decLines = [
    [-53,21.5, -37.5,21.2, -22.5,22.8, -7.5,26.1, 7.5,26.3, 22.5,26, 37.5,25.5, 52.5,27.4, 67.5,28.4, 82,28.8],
    [-53,25.7, -37.5,25.6, -22.5,27.3, -7.5,29, 7.5,28.2, 22.5,28, 37.5,27.4, 52.5,30.1, 67.5,31.2, 82,31.9],
    [-53,28.1, -37.5,28.3, -22.5,29.4, -7.5,30.1, 7.5,29.7, 22.5,29.5, 37.5,28.8, 52.5,31.4, 67.5,33.5, 82,34],
    [-53,29.9, -37.5,30.5, -22.5,31.2, -7.5,32.2, 7.5,30.8, 22.5,30.6, 37.5,30.1, 52.5,32.6, 67.5,35.1, 82,35.7],
    [-53,31.7, -37.5,32.3, -22.5,33, -7.5,33.8, 7.5,32.1, 22.5,31.7, 37.5,31.3, 47.3,35, 52.5,36.4, 67.5,37.3, 82,38.1],
    [-53,34.2, -37.5,34.1, -22.5,34.2, -7.5,35.2, 7.5,33.2, 22.5,33.1, 37.9,33.5, 38.8,36, 34,39.3, 20,43.1, 7.5,45, -7.5,46.8, -22.5,44.3, -33.1,41.8, -52.5,37.8],
    [-7.5,45, 7.5,42.2, 15.2,40.4, 18,37.1, 7.5,35, -7.5,36.8, -22.5,36.5, -26.1,37.8, -19.9,40.4, -7.5,45],
    [-7.5,42.3, 0,39.6, -7.5,39.1, -9.5,40.4, -7.5,42.3],
    [-52.5,47.9, -46.4,46.8, -44.5,45.2, -37.5,44.7, -22.5,47.4, -7.5,48.6, 7.5,46.2, 22.5,44.7, 37.5,43.8, 43.6,46.5, 40.3,50],
    [-1,50, 7.5,49, 22.5,46.5, 37.5,48.1, 38.8,50],
    [21.4,50, 22.5,49.5, 24,50],
    [50.2,50, 54,44.7, 54.9,41.4, 67.5,39.9, 82.5,41.6],
    [60.6,50, 62.5,46.8, 71,44.9, 82.5,44],
    [70,50, 72,47.2, 82.5,45.6],
    [75.8,50, 82.5,47.7]
];
var decLabels = [["12",-37.5,34.1],["8",25.6,46.7],["10",43.6,47.7,-90],["14",59.7,47.9,-90],["12",54,43.6,-90],["10",72,47.3,-90],["14",16.7,37.7,-90],["10",65.3,37],["8",21.4,30.6],["4",28,27.8],["6",-46.8,28.1],["2",73.9,28.7]];
var decHole = [81, 83, 27.4, 29.4];

// panel order, grid place and the width of the x axis
var narrowRange = [-81, 81.7];
var wideRange = [-83.7, 84.4];
var panels = [
    { month: "Jan 2003", col: 0, row: 0, range: narrowRange, tx: 229, lines: janLines, labels: janLabels, heat: [{ cols: janCols, vals: janHeat, from: -68.1, to: 65.8 }] },
    { month: "Feb 2003", col: 1, row: 0, range: narrowRange, tx: 588, lines: febLines, labels: febLabels, heat: [{ cols: febCols, vals: febHeat, from: -69, to: 80 }] },
    { month: "Mar 2003", col: 2, row: 0, range: narrowRange, tx: 947, lines: marLines, labels: marLabels, heat: [{ cols: marCols, vals: marHeat, from: -68.8, to: 50.3 }] },
    { month: "Apr 2003", col: 0, row: 1, range: narrowRange, tx: 228, lines: aprLines, labels: aprLabels, heat: [{ cols: aprCols, vals: aprHeat, from: -68.1, to: 50.6 }] },
    { month: "Jun 2003", col: 2, row: 1, range: wideRange, tx: 947, lines: junLines, labels: junLabels, heat: [{ cols: junCols, vals: junHeat, from: -54, to: 51 }] },
    { month: "Jul 2003", col: 0, row: 2, range: wideRange, tx: 228, lines: julLines, labels: julLabels, heat: [{ cols: julColsA, vals: julHeatA, from: -82.4, to: -38.8 }, { cols: julColsB, vals: julHeatB, from: 21.6, to: 51.1 }] },
    { month: "Aug 2003", col: 1, row: 2, range: wideRange, tx: 589, lines: augLines, labels: augLabels, heat: [{ cols: augCols, vals: augHeat, from: -82.6, to: 52 }] },
    { month: "Sep 2003", col: 2, row: 2, range: wideRange, tx: 947, lines: sepLines, labels: sepLabels, heat: [{ cols: sepCols, vals: sepHeat, from: -68.8, to: 65.9 }] },
    { month: "Oct 2003", col: 0, row: 3, range: wideRange, tx: 228, lines: octLines, labels: octLabels, heat: [{ cols: octCols, vals: octHeat, from: -68.8, to: 66 }] },
    { month: "Nov 2003", col: 1, row: 3, range: wideRange, tx: 589, lines: novLines, labels: novLabels, heat: [{ cols: novCols, vals: novHeat, from: -53.6, to: 82.8 }] },
    { month: "Dec 2003", col: 2, row: 3, range: wideRange, tx: 947, lines: decLines, labels: decLabels, heat: [{ cols: decCols, vals: decHeat, from: -54, to: 82.4 }], hole: decHole }
];

var colX = [92, 452, 811];
var rowY = [52, 422, 792, 1163];
var titleY = [25, 395, 765, 1137];
var inkColor = '#1c1c1c';
var fontName = '"Liberation Sans", Arial, sans-serif';

function toPoints(flat) {
    var pts = [];
    for (var i = 0; i < flat.length; i += 2) {
        pts.push({ x: flat[i], y: flat[i + 1] });
    }
    return pts;
}

function lookup(xs, ys, v) {
    if (v <= xs[0]) return ys[0];
    for (var i = 1; i < xs.length; i++) {
        if (v <= xs[i]) {
            return ys[i - 1] + (ys[i] - ys[i - 1]) * (v - xs[i - 1]) / (xs[i] - xs[i - 1]);
        }
    }
    return ys[ys.length - 1];
}

function sampleHeat(block, lat, alt) {
    var c = block.cols, i = 0;
    while (i < c.length - 2 && lat > c[i + 1]) i++;
    var t = Math.min(1, Math.max(0, (lat - c[i]) / (c[i + 1] - c[i])));
    var a = lookup(heatAlts, block.vals[i], alt);
    var b = lookup(heatAlts, block.vals[i + 1], alt);
    return a + (b - a) * t;
}

// grey field under the contours, placed with the chart's own scales
var heatPlugin = {
    id: 'heat',
    beforeDatasetsDraw: function (chart, args, opts) {
        var xs = chart.scales.x, ys = chart.scales.y, ctx = chart.ctx;
        opts.blocks.forEach(function (block) {
            var x0 = Math.round(xs.getPixelForValue(block.from));
            var x1 = Math.round(xs.getPixelForValue(block.to));
            var y0 = Math.round(ys.getPixelForValue(50));
            var y1 = Math.round(ys.getPixelForValue(20));
            var off = document.createElement('canvas');
            off.width = x1 - x0;
            off.height = y1 - y0;
            var octx = off.getContext('2d');
            var img = octx.createImageData(off.width, off.height);
            for (var py = 0; py < off.height; py++) {
                var alt = ys.getValueForPixel(y0 + py);
                for (var px = 0; px < off.width; px++) {
                    var g = lookup(greyValues, greyLevels, sampleHeat(block, xs.getValueForPixel(x0 + px), alt));
                    var k = (py * off.width + px) * 4;
                    img.data[k] = img.data[k + 1] = img.data[k + 2] = g;
                    img.data[k + 3] = 255;
                }
            }
            octx.putImageData(img, 0, 0);
            ctx.drawImage(off, x0, y0);
        });
        if (opts.hole) {
            var h = opts.hole;
            ctx.fillStyle = '#fff';
            ctx.fillRect(xs.getPixelForValue(h[0]), ys.getPixelForValue(h[3]),
                xs.getPixelForValue(h[1]) - xs.getPixelForValue(h[0]), ys.getPixelForValue(h[2]) - ys.getPixelForValue(h[3]));
        }
    }
};

// contour numbers, the frame, and the detached tick marks
var framePlugin = {
    id: 'frame',
    afterDatasetsDraw: function (chart, args, opts) {
        var xs = chart.scales.x, ys = chart.scales.y, ctx = chart.ctx, area = chart.chartArea;
        ctx.save();
        ctx.font = '18px ' + fontName;
        ctx.fillStyle = '#222';
        ctx.textAlign = 'center';
        ctx.textBaseline = 'middle';
        opts.labels.forEach(function (l) {
            ctx.save();
            ctx.translate(xs.getPixelForValue(l[1]), ys.getPixelForValue(l[2]));
            if (l[3]) ctx.rotate(l[3] * Math.PI / 180);
            ctx.fillText(l[0], 0, 0);
            ctx.restore();
        });
        ctx.restore();

        ctx.save();
        ctx.strokeStyle = inkColor;
        ctx.lineWidth = 2;
        ctx.strokeRect(area.left, area.top, area.right - area.left, area.bottom - area.top);
        ctx.beginPath();
        xs.ticks.forEach(function (t) {
            var px = xs.getPixelForValue(t.value);
            var len = xTicks.major.indexOf(t.value) >= 0 ? 16 : 9;
            ctx.moveTo(px, area.bottom + 3);
            ctx.lineTo(px, area.bottom + len);
        });
        ys.ticks.forEach(function (t) {
            var py = ys.getPixelForValue(t.value);
            ctx.moveTo(area.left - 14, py);
            ctx.lineTo(area.left, py);
        });
        ctx.stroke();
        ctx.restore();
    }
};

// the plot box is fixed, so the scales must not ask for extra room
function noScalePadding(s) {
    s.paddingTop = 0;
    s.paddingBottom = 0;
    s.paddingLeft = 0;
    s.paddingRight = 0;
}

function addPanel(p) {
    var boxX = colX[p.col], boxY = rowY[p.row];
    var topPad = 10, rightPad = 30;
    var lastRow = p.row === 3;
    var below = lastRow ? 1511 - (boxY + 282) : 50;

    var title = document.createElement('div');
    title.className = 'ptitle';
    title.style.left = (p.tx - 160) + 'px';
    title.style.top = (titleY[p.row] - 18) + 'px';
    title.innerHTML = 'NO<sub>2</sub>  ' + p.month;
    document.body.appendChild(title);

    var canvas = document.createElement('canvas');
    canvas.width = 92 + 296 + rightPad;
    canvas.height = topPad + 282 + below;
    canvas.style.left = (boxX - 92) + 'px';
    canvas.style.top = (boxY - topPad) + 'px';
    document.body.appendChild(canvas);

    new Chart(canvas.getContext('2d'), {
        type: 'scatter',
        data: {
            datasets: p.lines.map(function (line) {
                return {
                    data: toPoints(line),
                    showLine: true,
                    pointRadius: 0,
                    borderColor: inkColor,
                    borderWidth: 1.8,
                    tension: 0.12
                };
            })
        },
        options: {
            responsive: false,
            animation: false,
            events: [],
            layout: { padding: { top: topPad, right: rightPad, left: 0, bottom: 0 } },
            plugins: {
                legend: { display: false },
                tooltip: { enabled: false },
                heat: { blocks: p.heat, hole: p.hole },
                frame: { labels: p.labels }
            },
            scales: {
                x: {
                    type: 'linear',
                    min: p.range[0],
                    max: p.range[1],
                    afterFit: function (s) { s.height = below; noScalePadding(s); },
                    border: { display: false },
                    grid: { display: false, drawTicks: false },
                    title: {
                        display: lastRow,
                        text: 'Latitude',
                        color: '#1c1c1c',
                        font: { family: fontName, size: 31, lineHeight: 0.6 },
                        padding: { top: 0, bottom: 1 }
                    },
                    ticks: {
                        stepSize: 20,
                        includeBounds: false,
                        autoSkip: false,
                        maxRotation: 0,
                        padding: 24,
                        color: '#222',
                        font: { family: fontName, size: 18 },
                        callback: function (v) { return xTicks.major.indexOf(v) >= 0 ? String(v) : ''; }
                    }
                },
                y: {
                    type: 'linear',
                    min: 19.9,
                    max: 50.32,
                    afterFit: function (s) { s.width = 92; noScalePadding(s); },
                    border: { display: false },
                    grid: { display: false, drawTicks: false },
                    title: {
                        display: p.col === 0,
                        text: 'Altitude',
                        color: '#1c1c1c',
                        font: { family: fontName, size: 30.5, lineHeight: 1.2 },
                        padding: { top: 10, bottom: 0 }
                    },
                    ticks: {
                        stepSize: 5,
                        includeBounds: false,
                        padding: 21,
                        color: '#222',
                        font: { family: fontName, size: 18 }
                    }
                }
            }
        },
        plugins: [heatPlugin, framePlugin]
    });
}

panels.forEach(addPanel);
</script>
</body>
</html>
